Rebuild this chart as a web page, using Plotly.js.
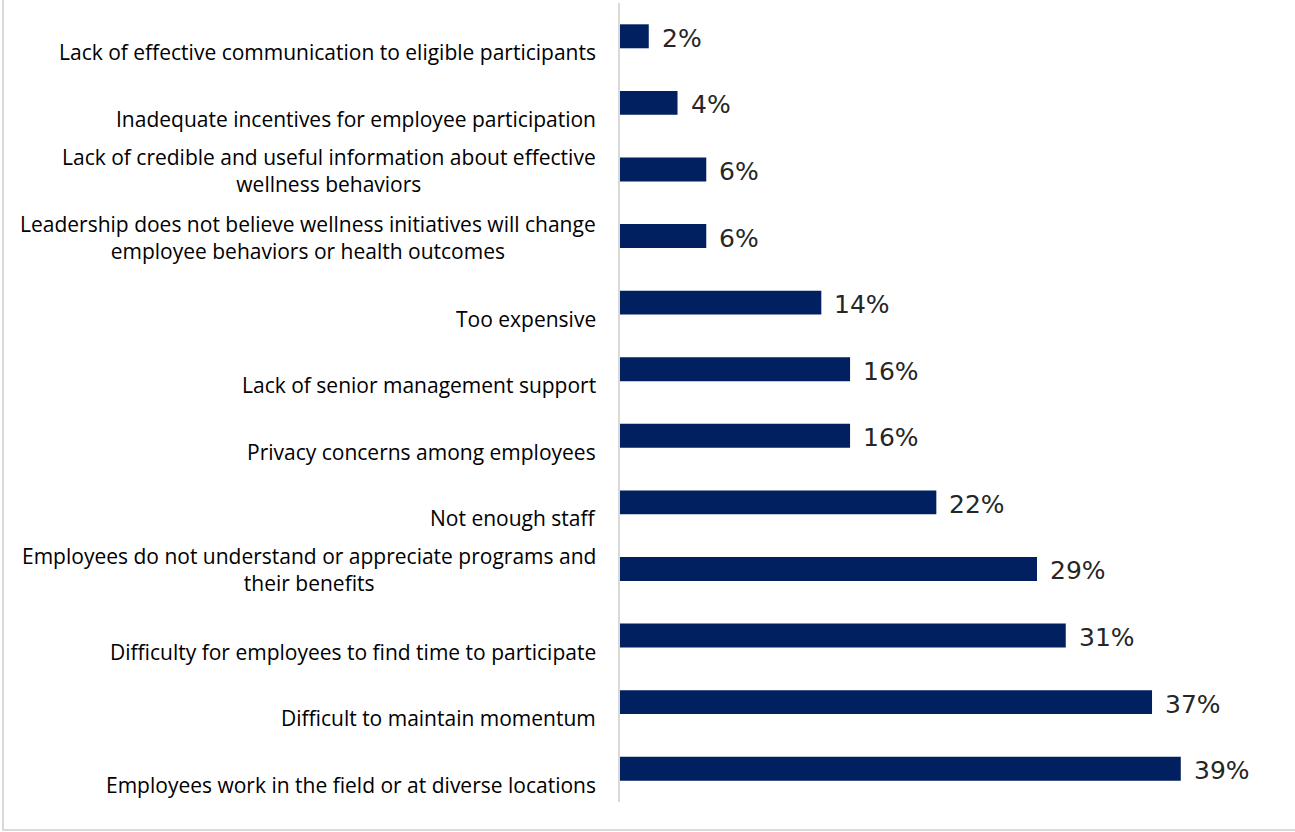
<!DOCTYPE html>
<html>
<head>
<meta charset="utf-8">
<script src="https://cdn.plot.ly/plotly-3.0.1.min.js"></script>
<style>
  html, body { margin: 0; padding: 0; background: #fff; }
  #wrap { position: relative; width: 1295px; height: 832px; overflow: hidden; }
  #frame { position: absolute; left: 2px; top: -5px; width: 1300px; height: 836px;
           border-left: 2px solid #d9d9d9; border-bottom: 2px solid #d9d9d9; box-sizing: border-box; }
  #chart { position: absolute; left: 0; top: 0; width: 1295px; height: 832px; }
</style>
</head>
<body>
<div id="wrap"><div id="frame"></div><div id="chart"></div></div>
<script>
const categories = [
  "Lack of effective communication to eligible participants",
  "Inadequate incentives for employee participation",
  "Lack of credible and useful information about effective<br>wellness behaviors",
  "Leadership does not believe wellness initiatives will change<br>employee behaviors or health outcomes",
  "Too expensive",
  "Lack of senior management support",
  "Privacy concerns among employees",
  "Not enough staff",
  "Employees do not understand or appreciate programs and<br>their benefits",
  "Difficulty for employees to find time to participate",
  "Difficult to maintain momentum",
  "Employees work in the field or at diverse locations"
];
const values = [2, 4, 6, 6, 14, 16, 16, 22, 29, 31, 37, 39];
const valueLabels = values.map(v => v + "%");

const catAnnotations = categories.map(c => ({
  xref: "paper", x: 0, xanchor: "right", xshift: -22,
  yref: "y", y: c, yanchor: "middle",
  yshift: c.includes("<br>") ? -1 : -16,
  text: c, showarrow: false, align: "center",
  font: { family: "'Open Sans', 'Noto Sans', sans-serif", size: 21, color: "#000000" }
}));
const valAnnotations = values.map((v, i) => ({
  xref: "x", x: v, xanchor: "left", xshift: 11,
  yref: "y", y: categories[i], yanchor: "middle", yshift: -2,
  text: valueLabels[i], showarrow: false,
  font: { family: "'DejaVu Sans', sans-serif", size: 25, color: "#262626" }
}));

const trace = {
  type: "bar", orientation: "h",
  x: values, y: categories,
  marker: { color: "#002060", line: { width: 0 } },
  hoverinfo: "none"
};

const layout = {
  width: 1295, height: 832,
  margin: { l: 620, r: 15, t: 3, b: 30 },
  paper_bgcolor: "rgba(0,0,0,0)", plot_bgcolor: "rgba(0,0,0,0)",
  bargap: 0.64,
  showlegend: false,
  xaxis: { range: [0, 45.9], visible: false, fixedrange: true },
  yaxis: { type: "category", autorange: "reversed", showticklabels: false,
           ticks: "", showgrid: false, zeroline: false,
           showline: true, linecolor: "#d9d9d9", linewidth: 2, fixedrange: true },
  annotations: catAnnotations.concat(valAnnotations)
};

Plotly.newPlot("chart", [trace], layout, { staticPlot: true, displayModeBar: false });
</script>
</body>
</html>
